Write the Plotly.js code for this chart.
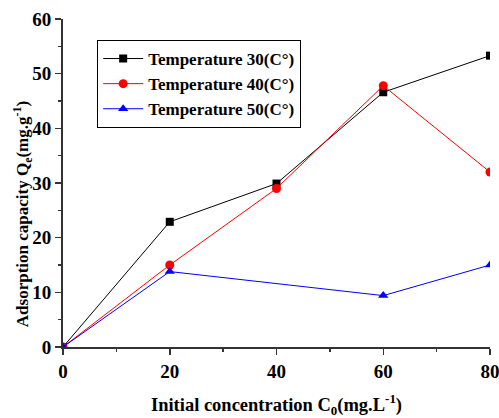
<!DOCTYPE html>
<html><head><meta charset="utf-8">
<script src="https://cdn.plot.ly/plotly-3.0.1.min.js"></script>
<style>html,body{margin:0;padding:0;background:#fff}#chart{width:499px;height:418px}</style>
</head><body><div id="chart"></div>
<script>
const concentration = [0, 20, 40, 60, 80];
const q30 = [0, 22.9, 29.9, 46.6, 53.3];
const q40 = [0, 15.0, 29.0, 47.8, 32.0];
const conc50 = [0, 20, 60, 80];
const q50 = [0, 13.8, 9.4, 15.0];
const seriesNames = ["<b>Temperature 30(C°)</b>", "<b>Temperature 40(C°)</b>", "<b>Temperature 50(C°)</b>"];
const xTicks = [0, 20, 40, 60, 80];
const yTicks = [0, 10, 20, 30, 40, 50, 60];
const xTitle = "<b>Initial concentration C<sub>0</sub>(mg.L<sup>-1</sup>)</b>";
const yTitle = "<b>Adsorption capacity Q<sub>e</sub>(mg.g<sup>-1</sup>)</b>";

const font = {family: "Liberation Serif", color: "#000"};
const traces = [
  {x: concentration, y: q30, name: seriesNames[0], mode: "lines+markers",
   line: {color: "#000000", width: 1}, marker: {symbol: "square", size: 8, color: "#000000"}},
  {x: concentration, y: q40, name: seriesNames[1], mode: "lines+markers",
   line: {color: "#ff0000", width: 1}, marker: {symbol: "circle", size: 9, color: "#ff0000"}},
  {x: conc50, y: q50, name: seriesNames[2], mode: "lines+markers",
   line: {color: "#0000ff", width: 1}, marker: {symbol: "triangle-up", size: 9, color: "#0000ff"}}
];
const axisCommon = {
  showgrid: false, zeroline: false, showline: true, linecolor: "#333", linewidth: 2,
  ticks: "outside", ticklen: 6, tickwidth: 1.5, tickcolor: "#333",
  ticklabeloverflow: "allow",
  tickfont: Object.assign({}, font, {size: 19}),
  minor: {ticks: "outside", ticklen: 3, tickwidth: 1.5, tickcolor: "#333", showgrid: false}
};
const layout = {
  width: 499, height: 418,
  margin: {l: 63, r: 9, t: 19, b: 71},
  paper_bgcolor: "#fff", plot_bgcolor: "#fff",
  showlegend: true,
  legend: {x: 0.08, y: 0.936, xanchor: "left", yanchor: "top",
    bordercolor: "#000", borderwidth: 1, bgcolor: "#fff",
    font: Object.assign({}, font, {size: 17}), tracegroupgap: 0, itemwidth: 40},
  xaxis: Object.assign({}, axisCommon, {range: [0, 80], tickmode: "array", tickvals: xTicks,
    ticktext: xTicks.map(v => "<b>" + v + "</b>"),
    minor: Object.assign({}, axisCommon.minor, {tickmode: "linear", tick0: 0, dtick: 10}),
    title: {text: xTitle, standoff: 22,
      font: Object.assign({}, font, {size: 18.5})}}),
  yaxis: Object.assign({}, axisCommon, {range: [0, 60], tickmode: "array", tickvals: yTicks,
    ticktext: yTicks.map(v => "<b>" + v + "</b>"),
    minor: Object.assign({}, axisCommon.minor, {tickmode: "linear", tick0: 0, dtick: 5})}),
  annotations: [{text: yTitle, textangle: -90, xref: "paper", yref: "paper",
    x: -0.096, y: 0.405, xanchor: "center", yanchor: "middle", showarrow: false,
    font: Object.assign({}, font, {size: 17})}]
};
Plotly.newPlot("chart", traces, layout, {displayModeBar: false, staticPlot: true});
</script></body></html>
